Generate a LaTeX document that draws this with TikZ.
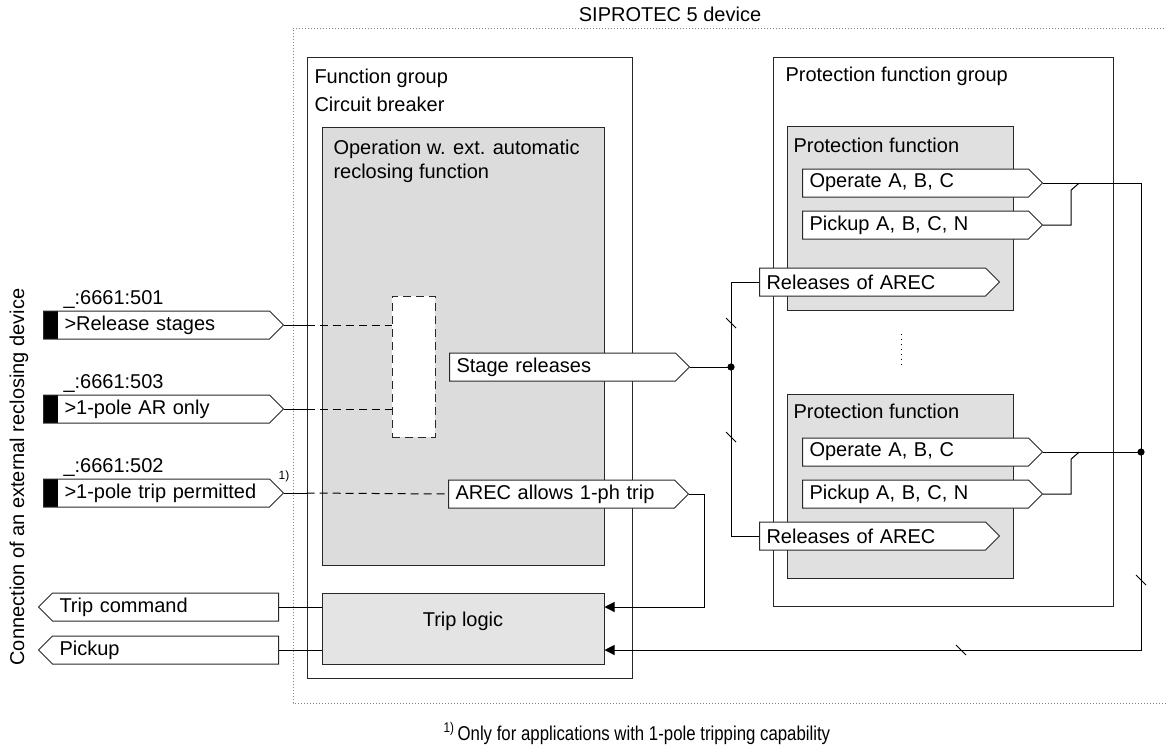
\documentclass[tikz,border=0pt]{standalone}
\usepackage{fontspec}
\setmainfont{Liberation Sans}
\usepackage{tikz}
\usetikzlibrary{shapes.symbols,arrows.meta,positioning,fit,calc}
\definecolor{bwline}{RGB}{40,40,40}
\definecolor{opgray}{RGB}{220,220,220}
\definecolor{pfgray}{RGB}{224,224,224}
\definecolor{tlgray}{RGB}{228,228,228}
\definecolor{frgray}{RGB}{130,130,130}

\begin{document}
\begin{tikzpicture}[
  x=0.5pt, y=-0.5pt,
  font=\fontsize{10pt}{12pt}\selectfont,
  line width=0.5pt,
  every node/.style={inner sep=0pt},
  box/.style={draw=bwline,fill=white,inner sep=0pt},
  gbox/.style={box,fill=opgray},
  sig/.style={signal,signal to=east,signal pointer angle=90,draw=bwline,fill=white,
    text width=106pt,align=left,inner xsep=3.5pt,inner ysep=0pt,minimum height=14pt,anchor=west},
  insig/.style={sig,execute at begin node={\hspace*{7pt}},
    path picture={\fill[black] (path picture bounding box.south west) rectangle ([xshift=7pt]path picture bounding box.north west);}},
  outsig/.style={sig,signal to=west,anchor=east},
  lbl/.style={anchor=base west},
  dline/.style={dash pattern=on 4pt off 2.5pt},
  devframe/.style={draw=frgray,dash pattern=on 0.5pt off 1pt},
  conn/.style={-{Triangle[length=5pt,width=5pt]}},
  jdot/.style={circle,fill=black,inner sep=0pt,minimum size=3.6pt},
]
  \useasboundingbox (0,0) rectangle (1166,746);
  % device
  \draw[devframe] (1170,28) -| (293,703) -- (1170,703);
  \node (title) at (670,14) {SIPROTEC 5 device};
  \node[rotate=90] (extdev) at (19,477) {Connection of an external reclosing device};

  % function group circuit breaker
  \node[box,fit={(307,57) (632,678)}] (fg) {};
  \node[lbl] (fgname) at (314,83) {Function group};
  \node[lbl] (fgcb) at (314,111) {Circuit breaker};
  \node[gbox,fit={(322,127) (604,565)}] (op) {};
  \node[lbl] (opname) at (333,154) {Operation w. ext. automatic};
  \node[lbl] (opname2) at (333,178) {reclosing function};
  \node[box,dline,fit={(392,296) (435,437)}] (db) {};
  \node[sig] (sr) at (449,367) {Stage releases};
  \node[sig] (arec) at (448,494) {AREC allows 1-ph trip};
  \node[gbox,fill=tlgray,fit={(322,593) (604,664)}] (tl) {Trip logic};

  % protection function group
  \node[box,fit={(773,57) (1113,606)}] (pfg) {};
  \node[lbl] (pfgname) at (785,81) {Protection function group};
  \node[gbox,fill=pfgray,fit={(787,126) (1013,310)}] (pf1) {};
  \node[lbl] (pf1name) at (793,152) {Protection function};
  \node[sig] (op1) at (802,183) {Operate A, B, C};
  \node[sig] (pu1) at (802,225) {Pickup A, B, C, N};
  \node[sig] (rel1) at (759,282) {Releases of AREC};
  \draw[dotted] (901,334) -- (901,368);
  \node[gbox,fill=pfgray,fit={(787,394) (1013,578)}] (pf2) {};
  \node[lbl] (pf2name) at (793,418) {Protection function};
  \node[sig] (op2) at (802,452) {Operate A, B, C};
  \node[sig] (pu2) at (802,494) {Pickup A, B, C, N};
  \node[sig] (rel2) at (759,536) {Releases of AREC};

  % inputs and outputs
  \foreach \y/\n/\num/\txt in {325/rs/501/{>Release stages},409/ar/503/{>1-pole AR only},493/tp/502/{>1-pole trip permitted}} {
    \node[insig] (\n) at (43,\y) {\txt};
    \node[lbl] (\n-num) at (63,\y-21) {\_:6661:\num};
  }
  \node[font=\fontsize{6pt}{7pt}\selectfont] (fnmark) at (284,476) {1)};
  \node[outsig] (tcmd) at (279,607) {Trip command};
  \node[outsig] (pu) at (279,650) {Pickup};

  % connections
  \foreach \n in {rs,ar} {
    \draw (\n.east) -- (\n.east -| fg.west);
    \draw[dline] (\n.east -| fg.west) -- (\n.east -| db.west);
  }
  \draw (tp.east) -- (tp.east -| fg.west);
  \draw[dline] (tp.east -| fg.west) -- (arec.west);
  \coordinate (jn) at (731,367);
  \draw (sr.east) -- (jn);
  \draw (rel1.west) -| (jn) |- (rel2.west);
  \node[jdot] (jndot) at (jn) {};
  \draw[conn] (arec.east) -- ++(15,0) |- (tl.east |- tcmd);
  \coordinate (rbus) at (1141,650);
  \draw[conn] (op1.east) -| (rbus) -- (tl.east |- rbus);
  \draw (op2.east) -- (op2.east -| rbus);
  \node[jdot] (rdot) at (op2.east -| rbus) {};
  \draw (pu1.east) -- ++(28,0) -- ++(0,-35) -- ++(8,-7);
  \draw (pu2.east) -- ++(28,0) -- ++(0,-35) -- ++(8,-7);
  \draw (tl.west |- tcmd) -- (tcmd.east);
  \draw (tl.west |- pu) -- (pu.east);
  \foreach \p in {(731,323),(731,437),(1141,580),(961,650)}
    \draw \p ++(-5,-5) -- ++(10,10);

  \node[lbl] (fn) at (443,740) {\scalebox{0.84}[1]{\textsuperscript{1)}\,Only for applications with 1-pole tripping capability}};
\end{tikzpicture}
\end{document}
